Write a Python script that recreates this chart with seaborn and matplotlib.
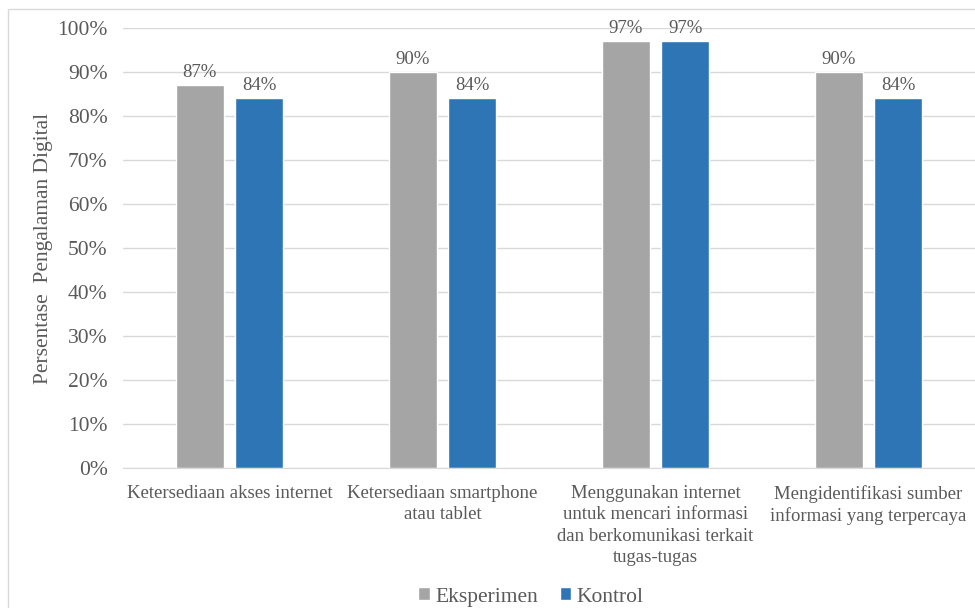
import matplotlib
matplotlib.use("Agg")
import matplotlib.pyplot as plt
import seaborn as sns
import pandas as pd
from matplotlib.patches import Rectangle
from matplotlib.ticker import PercentFormatter

categories = [
    "Ketersediaan akses internet",
    "Ketersediaan smartphone\natau tablet",
    "Menggunakan internet\nuntuk mencari informasi\ndan berkomunikasi terkait\ntugas-tugas",
    "Mengidentifikasi sumber\ninformasi yang terpercaya",
]
eksperimen = [87, 90, 97, 90]
kontrol = [84, 84, 97, 84]
series_names = ["Eksperimen", "Kontrol"]
colors = ["#a5a5a5", "#2e75b6"]

df = pd.DataFrame({
    "kategori": categories * 2,
    "nilai": eksperimen + kontrol,
    "kelompok": [series_names[0]] * 4 + [series_names[1]] * 4,
})

sns.set_style("white")
plt.rcParams["font.family"] = ["Liberation Serif", "DejaVu Serif"]
text_color = "#595959"

fig = plt.figure(figsize=(9.75, 6.08), dpi=100)
ax = fig.add_axes([123 / 975, 1 - 468 / 608, (975 - 123) / 975, 440 / 608])

sns.barplot(data=df, x="kategori", y="nilai", hue="kelompok",
            palette=colors, width=0.563, gap=0.2, ax=ax, legend=True,
            saturation=1)

ax.set_ylim(0, 100)
ax.set_xlim(-0.5, 3.5)
ax.set_yticks(range(0, 101, 10))
ax.yaxis.set_major_formatter(PercentFormatter(decimals=0))
ax.grid(axis="y", color="#d9d9d9", linewidth=1)
ax.set_axisbelow(True)
for s in ["top", "right", "left"]:
    ax.spines[s].set_visible(False)
ax.spines["bottom"].set_color("#d9d9d9")
ax.tick_params(axis="y", labelsize=15.5, colors=text_color, length=0, pad=11)
ax.tick_params(axis="x", labelsize=13.5, colors=text_color, length=0, pad=12)
ax.set_xticks(range(len(categories)))
ax.set_xticklabels(categories, linespacing=1.35)
ax.set_xlabel("")
ax.set_ylabel("Persentase  Pengalaman Digital", fontsize=15.5, color=text_color)
ax.yaxis.set_label_coords(-(123 - 53) / 852, 0.5)

for cont in ax.containers:
    ax.bar_label(cont, fmt="%d%%", fontsize=13.5, color=text_color, padding=3)

leg = ax.legend(loc="center", bbox_to_anchor=((531 - 123) / 852, -(597 - 468) / 440),
                ncol=2, frameon=False, fontsize=15.5, handlelength=0.55, handleheight=0.55,
                handletextpad=0.25, columnspacing=1.0)
for t in leg.get_texts():
    t.set_color(text_color)

fig.patches.append(Rectangle((8 / 975, -0.1), 1.2, 1 - 9 / 608 + 0.1,
                             transform=fig.transFigure, fill=False,
                             edgecolor="#d9d9d9", linewidth=1))

fig.savefig("out.png", dpi=100)
